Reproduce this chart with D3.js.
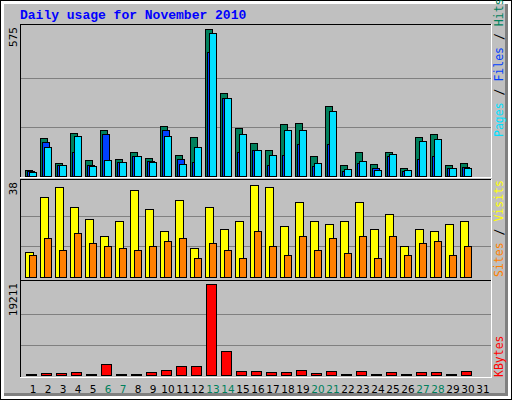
<!DOCTYPE html>
<html><head><meta charset="utf-8">
<script src="https://cdn.jsdelivr.net/npm/d3@7"></script>
<style>body{margin:0;background:#fff}svg{display:block}</style>
</head><body>
<script>
const days = d3.range(1, 32);
const weekend = [6,7,13,14,20,21,27,28];
const hits  = [25,150,52,170,64,178,68,95,72,197,84,154,575,324,186,130,100,202,206,80,272,44,92,48,95,33,154,163,44,52,0];
const files = [20,134,44,92,44,166,56,80,60,178,68,56,485,304,95,103,44,84,127,40,127,20,52,33,77,20,68,80,33,37,0];
const pages = [17,115,44,158,40,64,56,80,56,158,48,115,560,304,166,103,84,178,178,52,253,29,60,25,88,25,135,146,33,33,0];
const visits= [10.3,33,37,29,24,17,23,36,28,19,32,12,29,20,23,38,37,21,31,23,22,23,31,20,26,13,20,19,22,23,0];
const sites = [9.1,16,11,18,14,13,12,11,13,15,16,8,14,11,8,19,13,9,17,11,16,10,17,8,17,9,14,15,9,13,0];
const kbytes= [50,490,490,700,50,2380,50,50,700,1120,1960,1960,19211,5120,910,910,700,700,1120,490,910,50,910,50,700,50,700,700,50,910,0];
const maxTop = 575, maxMid = 38, maxBot = 19211;

const W = 512, H = 400;
const svg = d3.select("body").append("svg").attr("width", W).attr("height", H);
const mono = "DejaVu Sans Mono, monospace";

svg.append("rect").attr("x",0).attr("y",0).attr("width",W).attr("height",H).attr("fill","#000");
svg.append("rect").attr("x",1).attr("y",1).attr("width",W-2).attr("height",H-2).attr("fill","#fff");
svg.append("rect").attr("x",4).attr("y",4).attr("width",W-8).attr("height",H-8).attr("fill","#808080");
svg.append("rect").attr("x",4).attr("y",4).attr("width",W-11).attr("height",H-11).attr("fill","#c0c0c0");

svg.append("text").attr("x",20).attr("y",19).text("Daily usage for November 2010")
  .attr("font-family","Liberation Mono, Courier New, monospace").attr("font-weight","bold")
  .attr("font-size",13).attr("fill","#0000ff");

const x = d3.scaleLinear().domain([1, 32]).range([25, 25 + 15*31]);
const left = 20, right = 491;

const panels = [
  {top:25, base:176, max:maxTop, label:"575"},
  {top:180, base:279, max:maxMid, label:"38"},
  {top:281, base:376, max:maxBot, label:"19211"}
];

function panelFrame(p, yScale){
  const g = svg.append("g");
  [1/3, 2/3].forEach(f => {
    const yy = Math.round(yScale(p.max*f)) + 0.5;
    g.append("line").attr("x1",left+1).attr("x2",right).attr("y1",yy).attr("y2",yy)
      .attr("stroke","#808080").attr("stroke-width",1);
  });
  g.append("line").attr("x1",left).attr("x2",right).attr("y1",p.top-0.5).attr("y2",p.top-0.5).attr("stroke","#000");
  g.append("line").attr("x1",left+0.5).attr("x2",left+0.5).attr("y1",p.top-1).attr("y2",p.base+2).attr("stroke","#000");
  g.append("line").attr("x1",right+0.5).attr("x2",right+0.5).attr("y1",p.top-1).attr("y2",p.base+2).attr("stroke","#fff");
  g.append("line").attr("x1",left).attr("x2",right+1).attr("y1",p.base+1.5).attr("y2",p.base+1.5).attr("stroke","#fff");
  svg.append("text").attr("transform",`translate(17,${p.top+2}) rotate(-90)`)
    .attr("text-anchor","end").attr("font-family",mono).attr("font-size",11).attr("fill","#000").text(p.label);
}

function bars(values, yScale, offset, w, color){
  svg.append("g").selectAll("rect").data(days.filter((d,i)=>values[i]>0)).join("rect")
    .attr("x", d => x(d) + offset + 0.5)
    .attr("y", d => Math.min(Math.round(yScale(values[d-1])), yScale(0)-1) + 0.5)
    .attr("width", w)
    .attr("height", d => Math.max(1, yScale(0) - Math.round(yScale(values[d-1]))))
    .attr("fill", color).attr("stroke","#000").attr("stroke-width",1);
}

const yTop = d3.scaleLinear().domain([0, maxTop]).range([176, 29]);
const yMid = d3.scaleLinear().domain([0, maxMid]).range([277, 185]);
const yBot = d3.scaleLinear().domain([0, maxBot]).range([375, 284]);
panelFrame(panels[0], yTop);
panelFrame(panels[1], yMid);
panelFrame(panels[2], yBot);

bars(hits, yTop, 0, 7, "#00805c");
bars(files, yTop, 2, 7, "#0040ff");
bars(pages, yTop, 4, 7, "#00e0ff");
bars(visits, yMid, 0, 8, "#ffff00");
bars(sites, yMid, 4, 7, "#ff8000");
bars(kbytes, yBot, 1, 10, "#ff0000");

svg.append("g").selectAll("text").data(days).join("text")
  .attr("x", d => x(d) + 8).attr("y", 393).attr("text-anchor","middle")
  .attr("font-family","DejaVu Sans, sans-serif").attr("font-size",10.5)
  .attr("fill", d => weekend.includes(d) ? "#00805c" : "#000").text(d => d);

function rightLabel(yBottom, parts){
  const t = svg.append("text").attr("transform",`translate(503,${yBottom}) rotate(-90)`)
    .attr("font-family",mono).attr("font-size",11.5);
  parts.forEach(([s,c]) => t.append("tspan").attr("fill",c).text(s));
}
rightLabel(137, [["Pages","#00e0ff"],[" / ","#000"],["Files","#0040ff"],[" / ","#000"],["Hits","#00805c"]]);
rightLabel(277, [["Sites","#ff8000"],[" / ","#000"],["Visits","#ffff00"]]);
rightLabel(377, [["KBytes","#ff0000"]]);
</script>
</body></html>
